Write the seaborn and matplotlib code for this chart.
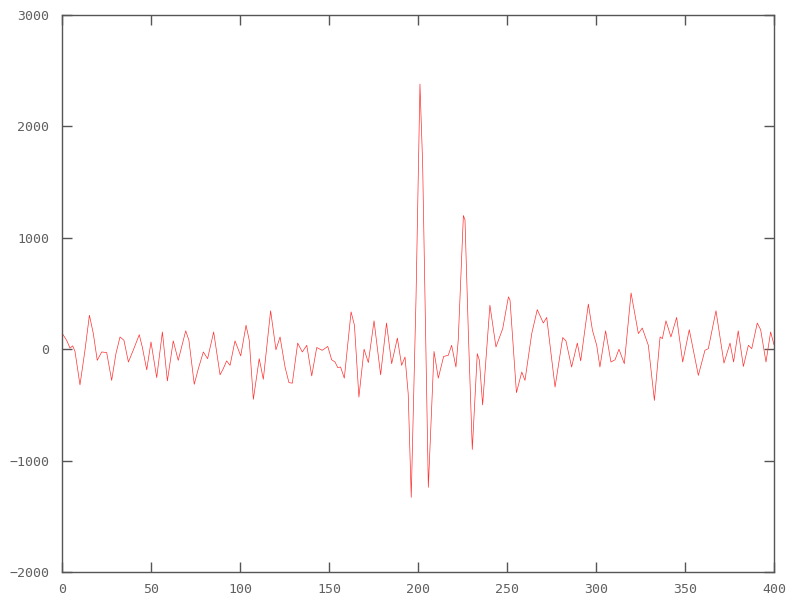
import matplotlib
matplotlib.use("Agg")
import matplotlib.pyplot as plt
import seaborn as sns
import pandas as pd

# Signal (position, value) at turning points
sample_x = [0, 2.6, 4.5, 6, 7.3, 10.1, 12.9, 15.4, 17.6, 19.8, 22.3, 25.1, 27.9, 30.3,
            32.6, 34.8, 37.3, 40, 43.4, 45.1, 47.6, 50, 53.2, 56.4, 59.2, 62.5, 65.3,
            69.5, 71.3, 74.3, 76.6, 79.4, 81.8, 85.2, 88.8, 90.6, 92.5, 94.4, 97.2,
            100.4, 103.4, 105.2, 107.5, 110.8, 113.1, 117.2, 120.2, 122.5, 125.3, 127.5,
            129.4, 132.4, 135, 137.5, 140.3, 143.1, 146.2, 149.3, 151.5, 153.4, 154.9,
            156.5, 158.6, 162.4, 164.3, 166.8, 169.7, 172.1, 175.3, 179, 182.3, 185.2,
            188.4, 190.8, 192.7, 194.5, 196.2, 198.9, 201.1, 202.6, 205.8, 209, 211.4,
            214.4, 217, 218.9, 221.3, 222.6, 225.5, 226.4, 228.3, 230.5, 233.3, 234.5,
            236.3, 240.4, 243.8, 247.6, 250.8, 251.7, 255.3, 258.3, 260.1, 263.9, 267,
            270.4, 272.3, 277, 281.3, 283.1, 286.3, 289.5, 291.4, 295.7, 298, 300.4,
            302.2, 305.4, 308.4, 310.7, 312.9, 315.9, 319.7, 323.8, 326, 329.4, 332.8,
            336, 337.3, 339.3, 342.1, 345.3, 348.7, 352.4, 357.5, 361.2, 363.1, 367.4,
            371.9, 375.3, 377.3, 379.9, 382.8, 385.6, 387.5, 390.6, 392.5, 395.5, 398.1,
            400]
sample_y = [145, 80, 10, 30, -20, -320, -10, 305, 140, -100, -25, -30, -280, -40,
            110, 80, -115, -10, 130, 20, -185, 65, -255, 155, -285, 75, -100,
            165, 80, -315, -175, -25, -85, 155, -230, -175, -105, -145, 75,
            -60, 215, 80, -450, -85, -270, 345, -5, 110, -160, -300,
            -305, 55, -25, 35, -240, 15, -10, 25, -95, -115, -165,
            -160, -260, 335, 215, -430, 0, -120, 255, -230, 235, -130,
            100, -145, -70, -400, -1330, 470, 2380, 1670, -1240, -20, -260,
            -65, -55, 35, -160, 80, 1200, 1160, 140, -900, -40, -100,
            -500, 395, 20, 185, 470, 440, -390, -205, -280, 140, 355,
            235, 285, -340, 105, 75, -160, 55, -105, 405, 170, 35,
            -160, 165, -115, -95, 0, -130, 505, 140, 190, 35, -460,
            110, 95, 255, 110, 285, -115, 175, -235, -10, 5, 345,
            -125, 55, -115, 165, -155, 35, 5, 235, 175, -115, 155,
            40]

x_ticks = [0, 50, 100, 150, 200, 250, 300, 350, 400]
y_ticks = [-2000, -1000, 0, 1000, 2000, 3000]

df = pd.DataFrame({"x": sample_x, "y": sample_y})

sns.set_style("white")
plt.rcParams["font.family"] = ["DejaVu Sans Mono", "DejaVu Sans"]

fig = plt.figure(figsize=(8, 6), dpi=100)
ax = fig.add_axes([62 / 800, 28 / 600, 712 / 800, 557 / 600])

sns.lineplot(data=df, x="x", y="y", ax=ax, color="#ff3030", linewidth=0.5,
             estimator=None, sort=False)

ax.set_xlim(0, 400)
ax.set_ylim(-2000, 3000)
ax.set_xticks(x_ticks)
ax.set_yticks(y_ticks)
ax.set_xticklabels([str(t) for t in x_ticks])
ax.set_yticklabels([str(t).replace("-", "\u2212") for t in y_ticks])
ax.set_xlabel("")
ax.set_ylabel("")

for s in ax.spines.values():
    s.set_visible(True)
    s.set_color("#555555")
    s.set_linewidth(1.0)

ax.tick_params(axis="both", direction="in", length=7, width=1, color="#555555",
               labelcolor="#606060", labelsize=9.5, top=True, right=True,
               bottom=True, left=True)
ax.tick_params(axis="y", pad=9)
ax.tick_params(axis="x", pad=8)
ax.grid(False)

fig.savefig("out.png", dpi=100, facecolor="white")
